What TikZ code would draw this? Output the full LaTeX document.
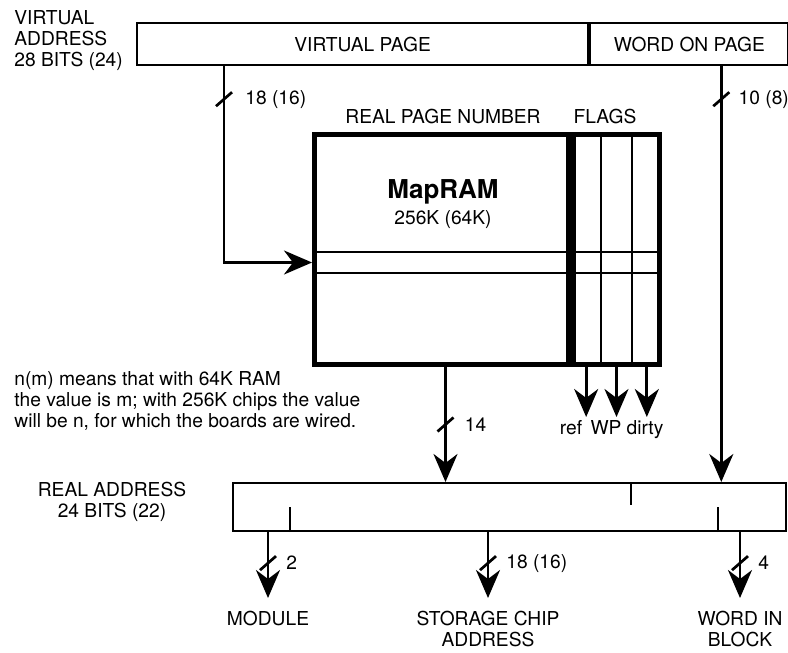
\documentclass[tikz,border=0pt]{standalone}
\usepackage{fontspec}
\setmainfont{TeX Gyre Heros}
\usetikzlibrary{arrows.meta, positioning, calc}
\tikzset{
    field/.style={rectangle, draw, line width=1.1pt, minimum height=21pt, inner sep=0pt, font=\fontsize{9.6}{11}\selectfont},
    ram/.style={rectangle, draw, line width=2.5pt, minimum height=115pt, inner sep=0pt},
    txt/.style={font=\fontsize{9.6}{10.5}\selectfont, inner sep=0pt},
    outlbl/.style={txt, align=center, anchor=north},
    wire/.style={line width=1.35pt},
    arrow/.style={wire, -{Stealth[length=14pt, width=12pt, inset=4.5pt]}},
    grid/.style={line width=1.1pt}
}
\newcommand{\bustick}[1]{\draw [wire] ($(#1)+(-8,7)$) -- ($(#1)+(8,-7)$);}

\begin{document}
\begin{tikzpicture}[x=0.5pt, y=-0.5pt]
    \useasboundingbox (0,0) rectangle (788,653);
    % virtual address
    \node (va) [txt, align=left, anchor=north west] at (14,10) {VIRTUAL\\ADDRESS\\28 BITS (24)};
    \node (vpage) [field, minimum width=225.5pt, anchor=north west] at (136,22) {VIRTUAL PAGE};
    \node (wpage) [field, minimum width=99pt, anchor=west] at (vpage.east) {WORD ON PAGE};

    % map RAM
    \node (mapram) [ram, minimum width=127pt, anchor=north west] at (312,132) {};
    \node (flags) [ram, minimum width=43pt, anchor=west] at (mapram.east) {};
    \node (rpn) [txt] at (443,117) {REAL PAGE NUMBER};
    \node (flg) [txt] at (605,117) {FLAGS};
    \node (title) [txt, font=\bfseries\fontsize{13}{15}\selectfont] at (443,192) {MapRAM};
    \node (size) [txt] at (443,220) {256K (64K)};
    \coordinate (rowtop) at ($(mapram.north west)+(0,120)$);
    \coordinate (rowbot) at ($(mapram.north west)+(0,141)$);
    \draw [grid] (rowtop) -- (rowtop -| flags.east);
    \draw [grid] (rowbot) -- (rowbot -| flags.east);
    \foreach \f in {1,2}
        \draw [grid] ($(flags.north west)!\f/3!(flags.north east)$) -- ($(flags.south west)!\f/3!(flags.south east)$);

    % real address
    \node (realaddr) [field, minimum width=276.5pt, minimum height=24pt, anchor=north west] at (232,482) {};
    \node (ralabel) [txt, align=center] at (112,502) {REAL ADDRESS\\24 BITS (22)};
    \draw [grid] ($(realaddr.south west)+(58,0)$) -- ++(0,-25);
    \draw [grid] ($(realaddr.north west)+(399,0)$) -- ++(0,23);
    \draw [grid] ($(realaddr.south west)+(486,0)$) -- ++(0,-25);

    % virtual page -> map RAM
    \coordinate (vptap) at ($(vpage.south west)+(88,0)$);
    \coordinate (row) at ($(rowtop)!0.5!(rowbot)$);
    \draw [arrow] (vptap) |- (row);
    \coordinate (t1) at ($(vptap)+(0,33)$);
    \bustick{t1}
    \node [txt, anchor=west] at ($(t1)+(21,0)$) {18 (16)};

    % word on page -> real address
    \coordinate (wptap) at ($(wpage.south)+(32,0)$);
    \draw [arrow] (wptap) -- (wptap |- realaddr.north);
    \coordinate (t2) at ($(wptap)+(0,33)$);
    \bustick{t2}
    \node [txt, anchor=west] at ($(t2)+(17,0)$) {10 (8)};

    % map RAM -> real address
    \coordinate (rpnout) at ($(mapram.south)+(4,0)$);
    \draw [arrow] (rpnout) -- (rpnout |- realaddr.north);
    \coordinate (t3) at ($(rpnout)!0.5!(rpnout |- realaddr.north)$);
    \bustick{t3}
    \node [txt, anchor=west] at ($(t3)+(19,0)$) {14};

    % flag outputs
    \foreach \i/\f in {1/ref,3/wp,5/dirty} {
        \coordinate (\f-out) at ($(flags.south west)!\i/6!(flags.south east)$);
        \coordinate (\f-end) at ($(\f-out)+(0,50)$);
        \draw [arrow] (\f-out) -- (\f-end);
    }
    \node (ref) [txt, anchor=base] at (571,434) {ref};
    \node (wp) [txt, anchor=base] at (606,434) {WP};
    \node (dirty) [txt, anchor=base] at (645,434) {dirty};

    % note
    \node (note) [txt, align=left, anchor=north west] at (14,371) {n(m) means that with 64K RAM\\the value is m; with 256K chips the value\\will be n, for which the boards are wired.};

    % outputs
    \node (module) [outlbl] at (268,611) {MODULE};
    \node (chip) [outlbl] at (488,611) {STORAGE CHIP\\ADDRESS};
    \node (block) [outlbl] at (740,611) {WORD IN\\BLOCK};
    \foreach \n/\w in {module/2, chip/18 (16), block/4} {
        \coordinate (\n-in) at (realaddr.south -| \n.north);
        \draw [arrow] (\n-in) -- ([yshift=6.5pt]\n.north);
        \coordinate (\n-t) at ($(\n-in)!0.47!([yshift=6.5pt]\n.north)$);
        \bustick{\n-t}
        \node [txt, anchor=west] at ($(\n-t)+(18,0)$) {\w};
    }
\end{tikzpicture}
\end{document}
